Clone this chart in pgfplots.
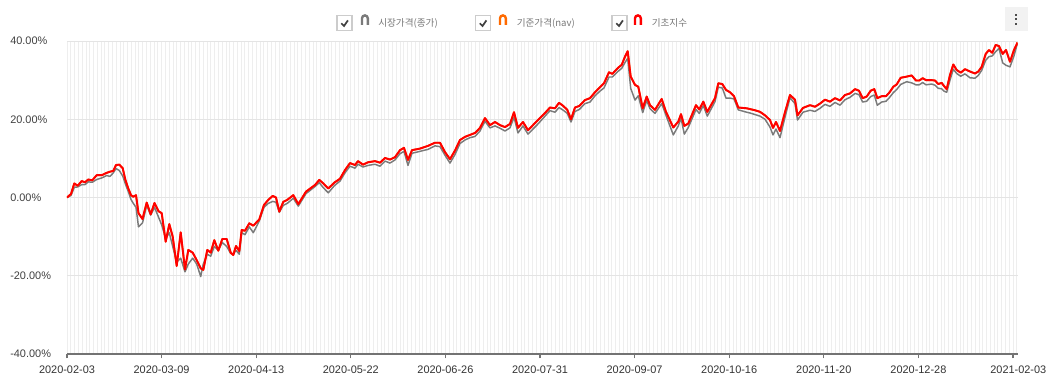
\documentclass[border=0pt]{standalone}
\usepackage{pgfplots}
\usepackage{pgfplotstable}
\pgfplotsset{compat=1.18}
\usepackage{fontspec}
\setmainfont{Liberation Sans}
\newfontfamily\kr{Noto Sans CJK KR}
\definecolor{sgray}{HTML}{7A7A7A}
\definecolor{sred}{HTML}{FF0000}
\definecolor{sorange}{HTML}{FF6A00}
\definecolor{gridc}{HTML}{E4E4E4}
\definecolor{vgrid}{HTML}{EEEEEE}
\definecolor{ticktext}{HTML}{333333}
\definecolor{legtext}{HTML}{777777}

% px = horizontal position, converted to trading-day index
\pgfplotstableread{
px red gray
67 0 0
71 0.9 0.5
74.3 3.6 2.6
77.7 3.0 2.7
81.7 4.2 3.3
85 3.9 3.3
88.3 4.6 4.0
92.3 4.4 3.9
96.7 5.7 4.6
101.7 5.7 5.0
106.7 6.3 5.6
110 6.6 5.4
113.3 6.8 6.3
116 8.3 7.4
119.3 8.4 6.9
122.7 7.5 5.5
125.3 4.6 3.5
128.3 2.3 1.5
131 0.6 -0.5
133.3 0.2 -1.5
136 0.6 -2.5
138.5 -4.0 -7.5
142.5 -5.5 -6.5
146.7 -1.3 -2.0
150.7 -4.3 -4.5
154.5 -1.4 -2.5
158.5 -3.5 -5.0
161.7 -4.0 -7.0
165.7 -11.3 -10.5
169.3 -6.8 -9.0
172.7 -10 -12.5
176.7 -17.5 -16.5
180.7 -8.9 -15.5
185 -18.4 -19.0
188.3 -13.4 -17.0
192.7 -14.1 -15.5
196.7 -16 -17.0
200.7 -18.1 -20.2
203.3 -18.5 -17.0
207.3 -13.4 -14.5
210.7 -14.1 -15.0
214.3 -10.9 -12.5
218.3 -13.6 -13.5
222.3 -10.6 -11.5
226.7 -10.6 -12.5
230.7 -14.1 -14.3
233.3 -14.7 -14.5
236 -12.4 -13.5
239.3 -13.7 -14.5
241.7 -8.3 -9.0
245 -8.5 -9.5
249.3 -6.6 -7.5
253.3 -7.2 -9.0
259.3 -5.6 -6.0
264 -1.9 -2.5
268.3 -0.6 -1.5
272.7 0.4 -1.0
276 0 -1.2
279.3 -3.6 -3.8
283.3 -1.1 -2.0
287.3 -0.6 -1.5
293.3 0.6 -0.2
298.3 -1.7 -2.2
306 1.5 1.0
315 3.2 2.8
319.3 4.5 3.8
323.3 3.6 2.5
328.3 2.3 1.2
334.3 3.8 3.0
340 4.8 4.2
345 7.0 6.3
350 8.8 8.0
355 8.3 7.5
358 9.3 8.5
363 8.4 7.8
368 9.0 8.2
375 9.3 8.5
380 8.9 8.0
385 10.1 9.3
390 9.7 8.8
395 10.3 9.6
400 12.1 11.2
404 12.7 11.8
408 9.6 8.2
412 12.1 11.3
420 12.5 11.8
428 13.2 12.3
435 14.0 13.2
440 14.0 13.0
445 11.6 10.8
450 9.8 8.8
455 12.0 11.0
460 14.7 13.8
465 15.5 14.7
470 16.0 15.3
475 16.5 15.6
480 17.8 17.0
485 20.3 19.5
490 18.5 17.8
495 19.3 18.3
500 18.5 17.7
505 18.0 17.0
510 18.8 17.8
514 21.8 20.5
518 17.8 16.5
523 19.3 18.3
528 17.2 16.2
533 18.5 17.5
538 19.8 18.8
545 21.6 20.8
550 23.0 22.2
555 22.8 21.8
559 24.2 23.0
563.3 23.4 22.3
567.3 22.4 21.5
571 20.0 19.3
575 23.0 22.0
579.3 23.4 22.5
585 24.9 24.0
590 25.4 24.4
595 26.9 26.0
600 28.2 27.2
604 29.2 28.0
609 32.0 30.8
612.3 31.6 30.8
618.3 33.2 32.3
621.7 33.9 33.0
625 36.0 34.5
627.7 37.4 35.6
630.7 30.9 27.9
635 28.8 24.9
638.3 28.3 26.0
642.7 22.8 21.7
646.7 25.8 24.8
650 23.6 22.7
655 22.4 21.5
661.7 25.2 24.0
666 21.9 21.0
673.3 17.9 16.0
678.3 19.4 18.3
681 21.3 20.3
684.3 18.3 16.2
688.3 18.9 17.9
696 23.6 22.5
699.3 22.5 21.5
703.3 24.5 23.5
707.3 21.9 20.8
715 25.4 24.5
718.3 29.2 28.2
722.3 29.0 28.0
726 27.5 25.4
730 26.9 25.4
734 25.9 25.2
738.3 23.0 22.4
746.7 22.8 21.8
750 22.6 21.6
755 22.3 21.2
760 21.9 20.8
765 21.0 20.0
770 19.8 18.0
773 17.8 16.0
776 19.3 17.5
780 17.0 15.3
785 21.8 20.5
790 26.2 25.5
795 25.0 24.0
797.5 21.0 19.8
803 22.9 21.8
810 23.6 22.3
815 23.2 22.0
820 24.0 22.8
825 25.0 23.8
830 24.5 23.3
835 25.4 24.3
840 24.8 23.6
845 26.2 25.0
850 26.6 25.6
855 27.7 26.6
859 27.3 26.3
862.7 25.4 24.4
866.7 25.8 24.6
870.7 27.3 25.8
874.3 27.7 26.2
877.3 25.4 23.6
881.7 25.9 24.4
886 25.9 24.6
889.3 26.8 25.5
893.3 28.3 26.8
896.7 28.9 27.6
900.7 30.6 28.9
906.7 30.9 29.6
911.7 31.2 29.3
916 29.9 28.8
919.3 29.9 28.8
922.7 30.5 29.4
926 30.0 28.8
931.7 30.0 29.0
935 29.9 28.7
938.3 29.0 27.9
941.7 29.3 27.8
944 28.5 27.2
946.7 27.7 26.9
950 31.3 30.0
953.3 34.0 32.8
956.7 32.6 31.7
960.7 31.9 31.0
965 32.8 31.6
970 32.2 30.6
975 31.7 30.5
978.3 32.2 31.2
981.7 33.4 32.5
985.7 36.7 35.1
989 37.7 36.0
992.3 37.0 36.2
995.7 39.0 37.3
999 38.7 38.1
1002.7 36.7 34.4
1006 37.7 33.8
1010 34.7 33.4
1014 37.7 36.2
1017.5 39.6 39.5
}\data

\newcommand\cbox[1]{%
  \draw[line width=1.4pt, draw=black!20, fill=white] (#1,15.5) rectangle (#1+15,30.5);
  \draw[line width=1.3pt, black!75] (#1+4.3,23.3) -- (#1+7,26) -- (#1+10.9,20.4);
}
\newcommand\sicon[2]{%
  \draw[line width=1.8pt, #2, line cap=butt] (#1,25) -- (#1,18.3) arc[start angle=180, end angle=360, radius=2.9] -- (#1+5.8,25);
}

\begin{document}
\begin{tikzpicture}
\begin{axis}[
  at={(0,0)}, anchor=south west,
  scale only axis, width=712.9pt, height=234.75pt,
  xmin=0, xmax=251.2, ymin=-40, ymax=40,
  xtick={0,25,...,250},
  xticklabels={2020-02-03,2020-03-09,2020-04-13,2020-05-22,2020-06-26,2020-07-31,2020-09-07,2020-10-16,2020-11-20,2020-12-28,\hspace*{8pt}2021-02-03},
  minor xtick={0,1,...,251},
  ytick={-40,-20,0,20,40},
  yticklabels={-40.00\%,-20.00\%,0.00\%,20.00\%,40.00\%},
  axis x line*=bottom, axis y line*=left,
  x axis line style={draw=black!55, line width=0.9pt, -},
  y axis line style={draw=none},
  xtick align=outside, major tick length=3.2pt, minor tick length=0pt,
  xtick style={draw=black!55, line width=0.9pt},
  ytick style={draw=none},
  xmajorgrids, xminorgrids, ymajorgrids,
  major x grid style={draw=vgrid, line width=0.6pt},
  minor x grid style={draw=vgrid, line width=0.6pt},
  major y grid style={draw=gridc, line width=0.7pt},
  tick label style={font=\fontsize{8.2}{9}\selectfont, text=ticktext},
  xticklabel style={anchor=north, inner sep=0pt, yshift=-5.5pt},
  yticklabel style={anchor=west, inner sep=0pt, xshift=-42.75pt, text=black!75},
  clip=true,
]
\addplot[sgray, line width=1.1pt, line join=round] table[x expr={(\thisrow{px}-67)/3.784}, y=gray] {\data};
\addplot[sorange, line width=1.3pt, line join=round] table[x expr={(\thisrow{px}-67)/3.784}, y=red] {\data};
\addplot[sred, line width=1.45pt, line join=round] table[x expr={(\thisrow{px}-67)/3.784}, y=red] {\data};
\end{axis}
\begin{scope}[x=0.75pt, y=-0.75pt, xshift=-50.25pt, yshift=265.5pt]
  \cbox{337}
  \sicon{362}{sgray}
  \node[anchor=west, inner sep=0pt, text=legtext, font=\kr\fontsize{7.2}{9}\selectfont] at (378,23) {시장가격(종가)};
  \cbox{475.5}
  \sicon{500}{sorange}
  \node[anchor=west, inner sep=0pt, text=legtext, font=\kr\fontsize{7.2}{9}\selectfont] at (516.5,23) {기준가격(nav)};
  \cbox{612}
  \sicon{635}{sred}
  \node[anchor=west, inner sep=0pt, text=legtext, font=\kr\fontsize{7.2}{9}\selectfont] at (651.5,23) {기초지수};
  \fill[black!5] (1004.5,7) rectangle (1027.5,31);
  \foreach \yy in {15,19.3,23.6} \fill[black!70] (1014.8,\yy-1) rectangle (1016.8,\yy+1);
\end{scope}
\pgfresetboundingbox
\useasboundingbox (-50.25pt,-24pt) rectangle (738pt,265.5pt);
\end{tikzpicture}
\end{document}
